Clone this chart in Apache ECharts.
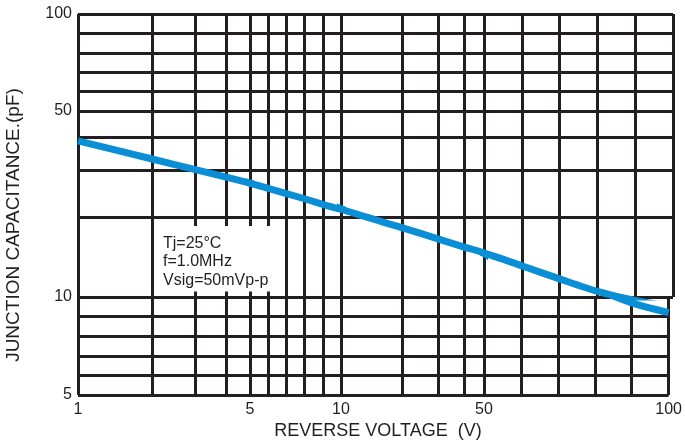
<!DOCTYPE html>
<html>
<head>
<meta charset="utf-8">
<script src="https://cdn.jsdelivr.net/npm/echarts@6/dist/echarts.min.js"></script>
<style>
  html, body { margin: 0; padding: 0; background: #ffffff; }
  #chart { width: 685px; height: 441px; }
</style>
</head>
<body>
<div id="chart"></div>
<script>
// Junction capacitance (pF) against reverse voltage (V)
const voltage     = [1, 2, 3, 4, 5, 6, 8, 10, 20, 30, 40, 50, 60, 70, 80, 90, 100];
const capacitance = [38.6, 33.0, 30.1, 28.2, 26.8, 25.6, 23.4, 21.4, 18.2, 16.5, 15.4, 14.6, 13.1, 11.7, 10.5, 9.7, 9.2];

// Labelled values on each axis
const xTickLabels = [1, 5, 10, 50, 100];
const yTickLabels = [5, 10, 50, 100];

// Ruled lines of the graph paper
const xRuleValues = [1, 2, 3, 4, 5, 6, 7, 8, 9, 10, 20, 30, 40, 50, 60, 70, 80, 90, 100];
const yRuleValues = [5, 6, 7, 8, 9, 10, 20, 30, 40, 50, 60, 70, 80, 90, 100];

// Test conditions printed inside the plot
const conditions = ['Tj=25°C', 'f=1.0MHz', 'Vsig=50mVp-p'];

const xTitle = 'REVERSE VOLTAGE  (V)';
const yTitle = 'JUNCTION CAPACITANCE.(pF)';

// ---- layout and style ----
const INK = '#231f20';
const CURVE = '#0a8fd6';
const FONT = '"Liberation Sans", Arial, Helvetica, sans-serif';

// The paper is printed in bands between labelled values; each band is its own grid.
const xEdges = [78, 250, 341, 484, 673];           // pixel edges of the voltage bands
const xScale = ['log', 'value', 'log', 'value'];   // ruling of each voltage band
const yEdges = [14, 111, 297, 395];                // pixel edges of the capacitance bands, top down
const yScale = ['value', 'log', 'value'];          // ruling of each capacitance band

const yDesc = yTickLabels.slice().sort((a, b) => b - a);
const curve = voltage.map((v, i) => [v, capacitance[i]]);

const grids = [], xAxes = [], yAxes = [], series = [];

for (let r = 0; r < yEdges.length - 1; r++) {
  for (let c = 0; c < xEdges.length - 1; c++) {
    const idx = grids.length;
    const xmin = xTickLabels[c], xmax = xTickLabels[c + 1];
    const ymin = yDesc[r + 1], ymax = yDesc[r];

    grids.push({
      left: xEdges[c], top: yEdges[r],
      width: xEdges[c + 1] - xEdges[c], height: yEdges[r + 1] - yEdges[r],
      containLabel: false
    });

    xAxes.push({
      type: xScale[c], logBase: 10, gridIndex: idx, min: xmin, max: xmax,
      axisLine: { show: false },
      axisTick: { show: false, customValues: xRuleValues.filter(v => v >= xmin && v <= xmax) },
      splitLine: { show: true, lineStyle: { color: INK, width: 3 } },
      axisLabel: {
        show: r === yEdges.length - 2,
        customValues: xTickLabels.filter(v => (v > xmin && v <= xmax) || (c === 0 && v === xmin)),
        margin: 7, fontSize: 16, color: INK, fontFamily: FONT
      }
    });

    yAxes.push({
      type: yScale[r], logBase: 10, gridIndex: idx, min: ymin, max: ymax,
      axisLine: { show: false },
      axisTick: { show: false, customValues: yRuleValues.filter(v => v >= ymin && v <= ymax) },
      splitLine: { show: true, lineStyle: { color: INK, width: 3 } },
      axisLabel: {
        show: c === 0,
        customValues: yTickLabels.filter(v => (v >= ymin && v < ymax) || (r === 0 && v === ymax)),
        margin: 6, fontSize: 16, color: INK, fontFamily: FONT
      }
    });

    series.push({
      type: 'line', xAxisIndex: idx, yAxisIndex: idx,
      data: curve, clip: true, showSymbol: false, silent: true, z: 5,
      smooth: 0.25,
      lineStyle: { color: CURVE, width: 7, cap: 'butt', join: 'round' }
    });
  }
}

const chart = echarts.init(document.getElementById('chart'), null, { renderer: 'canvas' });
chart.setOption({
  animation: false,
  backgroundColor: '#ffffff',
  grid: grids,
  xAxis: xAxes,
  yAxis: yAxes,
  series: series,
  title: [{
    text: conditions.join('\n'),
    left: 155, top: 226,
    padding: [8, 8, 2, 8],
    backgroundColor: '#ffffff',
    textStyle: { fontSize: 16, fontWeight: 'normal', color: INK, fontFamily: FONT, lineHeight: 18.5 }
  }],
  graphic: [
    {
      type: 'text', x: 378, y: 431, silent: true,
      style: { text: xTitle, fill: INK, font: '18px ' + FONT, align: 'center', verticalAlign: 'middle' }
    },
    {
      type: 'text', x: 14, y: 225, rotation: Math.PI / 2, silent: true,
      style: { text: yTitle, fill: INK, font: '19px ' + FONT, align: 'center', verticalAlign: 'middle' }
    }
  ]
});
</script>
</body>
</html>
